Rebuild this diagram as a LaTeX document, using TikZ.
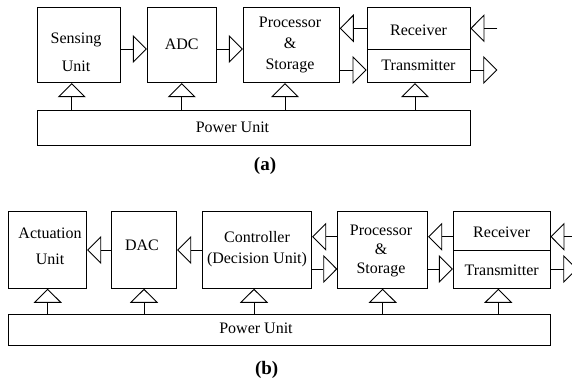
\documentclass[tikz,border=0pt]{standalone}
\usepackage{fontspec}
\setmainfont{Liberation Serif}
\usetikzlibrary{arrows.meta}
\begin{document}
\begin{tikzpicture}[x=1pt,y=-1pt,line width=0.9pt,
  box/.style={draw,rectangle,inner sep=0pt},
  lbl/.style={font=\fontsize{16}{21}\selectfont,align=center,inner sep=0pt},
  captext/.style={font=\fontsize{19}{22}\selectfont\bfseries,inner sep=0pt},
  arr/.style={-{Triangle[open,length=14pt,width=28pt]}}]
\useasboundingbox (0,0) rectangle (572,382);
% ---------- (a) ----------
\node[box,minimum width=82.7pt,minimum height=75.4pt] (su) at (78.7,45) {};
\node[box,minimum width=68.7pt,minimum height=75.4pt] (adc) at (181.7,45) {};
\node[box,minimum width=96pt,minimum height=75.4pt] (ps) at (291.3,45) {};
\node[box,minimum width=103pt,minimum height=41.7pt] (rx) at (418.5,28.15) {};
\node[box,minimum width=103pt,minimum height=33.7pt] (tx) at (418.5,65.85) {};
\node[box,minimum width=432.7pt,minimum height=34.3pt] (pw) at (253.7,127.85) {};

\node[lbl,font=\fontsize{16}{28}\selectfont] (sut) at (76,52) {Sensing\\Unit};
\node[lbl] (adct) at (181.7,44) {ADC};
\node[lbl] (pst) at (290,45) {Processor\\\&\hspace*{10pt}\\Storage};
\node[lbl] (rxt) at (418.5,30) {Receiver};
\node[lbl] (txt) at (418.5,65) {Transmitter};
\node[lbl] (pwt) at (232.5,127) {Power Unit};
\node[captext] (capa) at (265,166) {(a)};

\coordinate (ya1) at (0,49);
\coordinate (ya2) at (0,28.3);
\coordinate (ya3) at (0,70);
\draw[arr] (su.east |- ya1) -- (adc.west |- ya1);
\draw[arr] (adc.east |- ya1) -- (ps.west |- ya1);
\draw[arr] (rx.west |- ya2) -- (ps.east |- ya2);
\draw[arr] (ps.east |- ya3) -- (tx.west |- ya3);
\coordinate (ina) at (497.3,28.3);
\coordinate (outa) at (497.3,70);
\draw[arr] (ina) -- (rx.east |- ina);
\draw[arr] (tx.east |- outa) -- (outa);

\coordinate (ua1) at (71.7,0);
\coordinate (ua2) at (181.7,0);
\coordinate (ua3) at (285,0);
\coordinate (ua4) at (415,0);
\draw[arr] (pw.north -| ua1) -- (su.south -| ua1);
\draw[arr] (pw.north -| ua2) -- (adc.south -| ua2);
\draw[arr] (pw.north -| ua3) -- (ps.south -| ua3);
\draw[arr] (pw.north -| ua4) -- (tx.south -| ua4);

% ---------- (b) ----------
\node[box,minimum width=78.4pt,minimum height=77.3pt] (act) at (47.5,249.65) {};
\node[box,minimum width=65pt,minimum height=77.3pt] (dac) at (144.2,249.65) {};
\node[box,minimum width=109.4pt,minimum height=77.3pt] (ctl) at (257,249.65) {};
\node[box,minimum width=90pt,minimum height=77.3pt] (psb) at (382.7,249.65) {};
\node[box,minimum width=96.7pt,minimum height=39pt] (rxb) at (501.65,230.5) {};
\node[box,minimum width=96.7pt,minimum height=38.3pt] (txb) at (501.65,269.15) {};
\node[box,minimum width=541.7pt,minimum height=31.7pt] (pwb) at (279.2,329.85) {};

\node[lbl,font=\fontsize{16}{26}\selectfont] (actt) at (50,246) {Actuation\\Unit};
\node[lbl] (dact) at (142,245) {DAC};
\node[lbl] (ctlt) at (257,249) {Controller\\(Decision Unit)};
\node[lbl,font=\fontsize{16}{19}\selectfont] (psbt) at (381,251) {Processor\\\&\hspace*{10pt}\\Storage};
\node[lbl] (rxbt) at (501.65,232.5) {Receiver};
\node[lbl] (txbt) at (501.65,270) {Transmitter};
\node[lbl] (pwbt) at (256,328.5) {Power Unit};
\node[captext] (capb) at (266.7,370) {(b)};

\coordinate (yb1) at (0,250);
\coordinate (yb2) at (0,236.7);
\coordinate (yb3) at (0,269);
\draw[arr] (dac.west |- yb1) -- (act.east |- yb1);
\draw[arr] (ctl.west |- yb1) -- (dac.east |- yb1);
\draw[arr] (psb.west |- yb2) -- (ctl.east |- yb2);
\draw[arr] (ctl.east |- yb3) -- (psb.west |- yb3);
\draw[arr] (rxb.west |- yb2) -- (psb.east |- yb2);
\draw[arr] (psb.east |- yb3) -- (txb.west |- yb3);
\coordinate (inb) at (577.3,236.7);
\coordinate (outb) at (577.3,269);
\draw[arr] (inb) -- (rxb.east |- inb);
\draw[arr] (txb.east |- outb) -- (outb);

\coordinate (ub1) at (47.7,0);
\coordinate (ub2) at (144,0);
\coordinate (ub3) at (254,0);
\coordinate (ub4) at (382.7,0);
\coordinate (ub5) at (498.3,0);
\draw[arr] (pwb.north -| ub1) -- (act.south -| ub1);
\draw[arr] (pwb.north -| ub2) -- (dac.south -| ub2);
\draw[arr] (pwb.north -| ub3) -- (ctl.south -| ub3);
\draw[arr] (pwb.north -| ub4) -- (psb.south -| ub4);
\draw[arr] (pwb.north -| ub5) -- (txb.south -| ub5);
\end{tikzpicture}
\end{document}
